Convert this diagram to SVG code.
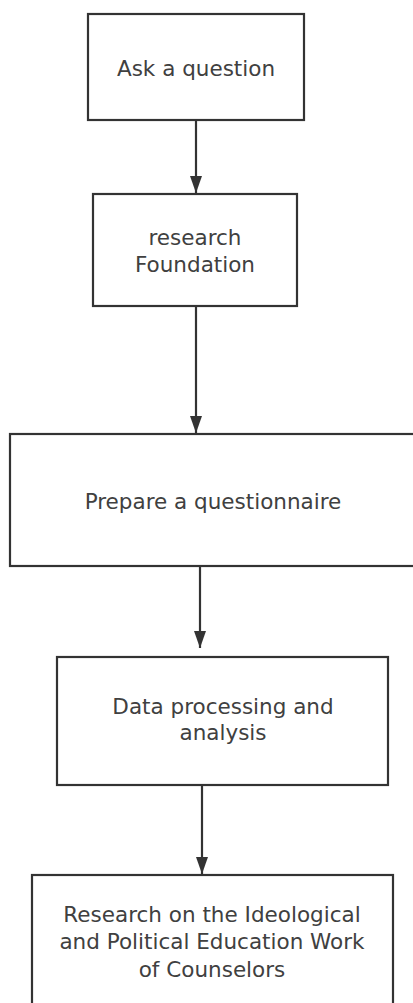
<svg xmlns="http://www.w3.org/2000/svg" width="413" height="1003" viewBox="0 0 413 1003">
<style>
.box{fill:#fff;stroke:#333;stroke-width:2.2}
.lbl{font-family:"DejaVu Sans","Open Sans",sans-serif;font-size:21.5px;fill:#404040;text-anchor:middle}
.edge{stroke:#333;stroke-width:2.2;fill:none}
</style>
<defs>
<marker id="ah" markerUnits="userSpaceOnUse" markerWidth="17" markerHeight="12" refX="17" refY="6" orient="auto" viewBox="0 0 17 12">
<path d="M0,0 L17,6 L0,12 Z" fill="#333"/>
</marker>
</defs>
<rect width="413" height="1003" fill="#fff"/>
<g id="connectors">
<line class="edge" x1="196" y1="120" x2="196" y2="193" marker-end="url(#ah)"/>
<line class="edge" x1="196" y1="306" x2="196" y2="433" marker-end="url(#ah)"/>
<line class="edge" x1="200" y1="566" x2="200" y2="648" marker-end="url(#ah)"/>
<line class="edge" x1="202" y1="785" x2="202" y2="874" marker-end="url(#ah)"/>
</g>
<g id="n1">
<rect class="box" x="88" y="14" width="216" height="106"/>
<text class="lbl" x="196" y="76">Ask a question</text>
</g>
<g id="n2">
<rect class="box" x="93" y="194" width="204" height="112"/>
<text class="lbl" x="195" y="245">research</text>
<text class="lbl" x="195" y="272">Foundation</text>
</g>
<g id="n3">
<rect class="box" x="10" y="434" width="408" height="132"/>
<text class="lbl" x="213" y="509">Prepare a questionnaire</text>
</g>
<g id="n4">
<rect class="box" x="57" y="657" width="331" height="128"/>
<text class="lbl" x="223" y="714">Data processing and</text>
<text class="lbl" x="223" y="740">analysis</text>
</g>
<g id="n5">
<rect class="box" x="32" y="875" width="361" height="140"/>
<text class="lbl" x="212" y="922">Research on the Ideological</text>
<text class="lbl" x="212" y="949">and Political Education Work</text>
<text class="lbl" x="212" y="977">of Counselors</text>
</g>
</svg>
